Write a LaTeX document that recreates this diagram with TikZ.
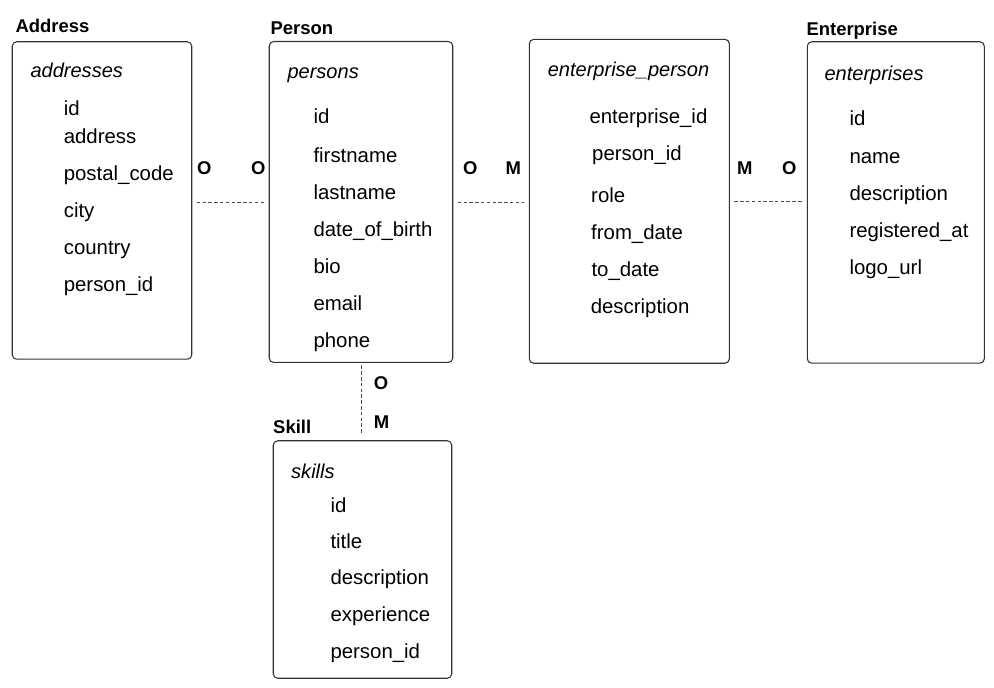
\documentclass[tikz,border=0pt]{standalone}
\usepackage{fontspec}
\setmainfont{Liberation Sans}
\usepackage{tikz}
\usetikzlibrary{shapes}
\tikzstyle{tbl}=[draw=black!80,rounded corners=2.5pt,inner sep=0pt]
\tikzstyle{col}=[anchor=base west,inner sep=0pt,font=\fontsize{11.6}{13}\selectfont]
\tikzstyle{tname}=[col,font=\fontsize{11.4}{13}\selectfont\itshape]
\tikzstyle{ent}=[anchor=base west,inner sep=0pt,font=\fontsize{10.5}{12}\selectfont\bfseries]
\tikzstyle{card}=[ent]
\tikzstyle{rel}=[draw=black!70,line width=0.55pt,dash pattern=on 2pt off 1.3pt,shorten <=0.09cm,shorten >=0.09cm]
\tikzset{every picture/.style={
    line width=0.6pt
  }
}

\begin{document}
\begin{tikzpicture}[x=0.02cm,y=-0.02cm]
      \useasboundingbox (0,0) rectangle (994,688);
      % tables
      \node[tbl,minimum width=3.59cm,minimum height=6.35cm] at (102,200.5) (addr) {};
      \node[tbl,minimum width=3.67cm,minimum height=6.42cm] at (361,202) (person) {};
      \node[tbl,minimum width=4.00cm,minimum height=6.48cm] at (629.3,201.3) (ep) {};
      \node[tbl,minimum width=3.54cm,minimum height=6.43cm] at (895.8,202.5) (entp) {};
      \node[tbl,minimum width=3.57cm,minimum height=4.75cm] at (362.5,559.5) (skill) {};
      % entity titles
      \node[ent] at (15,32.7) (t1) {Address};
      \node[ent] at (270,35) (t2) {Person};
      \node[ent] at (806,36) (t3) {Enterprise};
      \node[ent] at (272.7,434) (t4) {Skill};
      % Address
      \node[tname] at (30,77.7) (a0) {addresses};
      \node[col] at (63.3,116) (a1) {id};
      \node[col] at (63.3,143.3) (a2) {address};
      \node[col] at (63.3,180.7) (a3) {postal\_code};
      \node[col] at (63.3,217.5) (a4) {city};
      \node[col] at (63.3,255) (a5) {country};
      \node[col] at (63.3,291.7) (a6) {person\_id};
      % Person
      \node[tname] at (287,79) (p0) {persons};
      \node[col] at (313,124) (p1) {id};
      \node[col] at (313,162.5) (p2) {firstname};
      \node[col] at (313,200) (p3) {lastname};
      \node[col] at (313,237) (p4) {date\_of\_birth};
      \node[col] at (313,274) (p5) {bio};
      \node[col] at (313,311) (p6) {email};
      \node[col] at (313,348) (p7) {phone};
      % enterprise_person
      \node[tname] at (547.3,76.7) (e0) {enterprise\_person};
      \node[col] at (589,123.3) (e1) {enterprise\_id};
      \node[col] at (591.7,161) (e2) {person\_id};
      \node[col] at (590.7,202.7) (e3) {role};
      \node[col] at (590.7,240) (e4) {from\_date};
      \node[col] at (591,276.7) (e5) {to\_date};
      \node[col] at (590.3,313.3) (e6) {description};
      % Enterprise
      \node[tname] at (824,81) (n0) {enterprises};
      \node[col] at (849,126) (n1) {id};
      \node[col] at (849,164) (n2) {name};
      \node[col] at (849,201) (n3) {description};
      \node[col] at (849,237.7) (n4) {registered\_at};
      \node[col] at (849,275) (n5) {logo\_url};
      % Skill
      \node[tname] at (290.7,478.3) (s0) {skills};
      \node[col] at (330,512.7) (s1) {id};
      \node[col] at (330,548.3) (s2) {title};
      \node[col] at (330,585) (s3) {description};
      \node[col] at (330,621.7) (s4) {experience};
      \node[col] at (330,658.3) (s5) {person\_id};
      % relations
      \draw[rel] (person.west -| addr.east) -- (person.west);
      \draw[rel] (person.east) -- (person.east -| ep.west);
      \draw[rel] (ep.east) -- (ep.east -| entp.west);
      \draw[rel,shorten <=0.05cm,shorten >=0.11cm] (person.south) -- (person.south |- skill.north);
      \node[card] at (196.7,175) (c1) {O};
      \node[card] at (250.7,175) (c2) {O};
      \node[card] at (462.7,175) (c3) {O};
      \node[card] at (505,175) (c4) {M};
      \node[card] at (736.7,175) (c5) {M};
      \node[card] at (781.7,175) (c6) {O};
      \node[card] at (373.3,390) (c7) {O};
      \node[card] at (373.3,428.3) (c8) {M};
    \end{tikzpicture}
\end{document}
